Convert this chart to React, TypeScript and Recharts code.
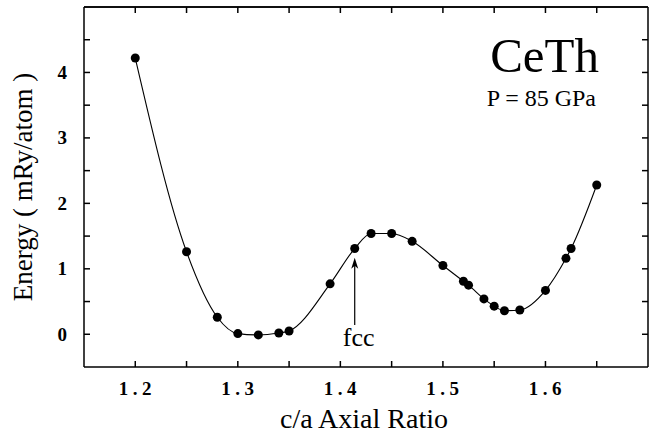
import { LineChart, Line, XAxis, YAxis, ReferenceLine, Label } from "recharts";

const RATIO = [
  1.2, 1.25, 1.28, 1.3, 1.32, 1.34, 1.35, 1.39, 1.414, 1.43, 1.45, 1.47, 1.5,
  1.52, 1.525, 1.54, 1.55, 1.56, 1.575, 1.6, 1.62, 1.625, 1.65,
];
const ENERGY = [
  4.22, 1.26, 0.26, 0.01, -0.01, 0.02, 0.05, 0.77, 1.31, 1.54, 1.54, 1.42,
  1.05, 0.81, 0.75, 0.54, 0.43, 0.36, 0.37, 0.67, 1.16, 1.31, 2.28,
];
const X_TICKS = [1.2, 1.25, 1.3, 1.35, 1.4, 1.45, 1.5, 1.55, 1.6, 1.65];
const X_LABELS = ["1.2", "1.3", "1.4", "1.5", "1.6"];
const Y_TICKS = [0, 0.5, 1, 1.5, 2, 2.5, 3, 3.5, 4, 4.5];
const Y_LABELS = ["0", "1", "2", "3", "4"];
const X_DOMAIN = [1.15, 1.7];
const Y_DOMAIN = [-0.5, 5];

const FONT = "'Liberation Serif', 'Times New Roman', serif";

const data = RATIO.map((r, i) => ({ ratio: r, energy: ENERGY[i] }));

const label = (labels: string[], v: number) => {
  const s = String(Math.round(v * 100) / 100);
  return labels.includes(s) ? s : "";
};

const XTick = (props: any) => {
  const { x, payload } = props;
  const s = label(X_LABELS, payload.value);
  if (!s) return <g />;
  return (
    <text x={Number(x) + 2} y={395} textAnchor="middle" fontFamily={FONT} fontSize={19} fontWeight="bold" letterSpacing={4.5} fill="#000">
      {s}
    </text>
  );
};

const YTick = (props: any) => {
  const { y, payload } = props;
  const s = label(Y_LABELS, payload.value);
  if (!s) return <g />;
  return (
    <text x={67} y={Number(y) + 6.5} textAnchor="end" fontFamily={FONT} fontSize={19} fontWeight="bold" fill="#000">
      {s}
    </text>
  );
};

// two in-range anchor points give the pixel scale for the top/right frame
const ANCHOR = [
  { x: 1.25, y: 1 },
  { x: 1.6, y: 4 },
];

const FrameAndTitle = (props: any) => {
  const x1 = Number(props.x1);
  const y1 = Number(props.y1);
  const x2 = Number(props.x2);
  const y2 = Number(props.y2);
  const sx = (x2 - x1) / (ANCHOR[1].x - ANCHOR[0].x);
  const sy = (y2 - y1) / (ANCHOR[1].y - ANCHOR[0].y);
  const X = (v: number) => x1 + (v - ANCHOR[0].x) * sx;
  const Y = (v: number) => y1 + (v - ANCHOR[0].y) * sy;
  const top = Y(Y_DOMAIN[1]);
  const right = X(X_DOMAIN[1]);
  return (
    <g>
      <line x1={X(X_DOMAIN[0])} x2={right} y1={top} y2={top} stroke="#000" strokeWidth={1.5} />
      <line x1={right} x2={right} y1={Y(Y_DOMAIN[0])} y2={top} stroke="#000" strokeWidth={1.5} />
      {X_TICKS.map((t) => (
        <line key={`tx${t}`} x1={X(t)} x2={X(t)} y1={top} y2={top + 6} stroke="#000" strokeWidth={1.5} />
      ))}
      {Y_TICKS.map((t) => (
        <line key={`ty${t}`} x1={right} x2={right - 6} y1={Y(t)} y2={Y(t)} stroke="#000" strokeWidth={1.5} />
      ))}
      <text x={599} y={72} textAnchor="end" fontFamily={FONT} fontSize={49} fill="#000">
        CeTh
      </text>
      <text x={596} y={106} textAnchor="end" fontFamily={FONT} fontSize={24} fill="#000">
        P = 85 GPa
      </text>
    </g>
  );
};

// arrow pointing up at the fcc point, label underneath
const FccArrow = (props: any) => {
  const x1 = Number(props.x1);
  const y1 = Number(props.y1);
  const x2 = Number(props.x2);
  const y2 = Number(props.y2);
  return (
    <g>
      <line x1={x1} y1={y1 + 6} x2={x2} y2={y2} stroke="#000" strokeWidth={1.2} />
      <path d={`M${x1},${y1} L${x1 - 3.5},${y1 + 11} L${x1},${y1 + 8} L${x1 + 3.5},${y1 + 11} Z`} fill="#000" />
      <text x={x2 + 4} y={y2 + 21} textAnchor="middle" fontFamily={FONT} fontSize={26} fill="#000">
        fcc
      </text>
    </g>
  );
};

export default function App() {
  return (
    <div style={{ position: "absolute", left: 0, top: 0, width: 654, height: 434, background: "#fff" }}>
      <LineChart width={654} height={434} data={data} margin={{ top: 7, right: 6, bottom: 0, left: 0 }}>
        <XAxis
          dataKey="ratio"
          type="number"
          domain={X_DOMAIN}
          ticks={X_TICKS}
          height={67}
          tickSize={-6}
          stroke="#000"
          strokeWidth={1.5}
          tick={XTick}
          interval={0}
          allowDataOverflow
        >
          <Label
            value="c/a Axial Ratio"
            position="insideBottom"
            offset={6}
            dx={-2}
            style={{ fontFamily: FONT, fontSize: 28, fill: "#000" }}
          />
        </XAxis>
        <YAxis
          type="number"
          domain={Y_DOMAIN}
          ticks={Y_TICKS}
          width={84}
          tickSize={-6}
          stroke="#000"
          strokeWidth={1.5}
          tick={YTick}
          interval={0}
          allowDataOverflow
        >
          <Label
            value="Energy ( mRy/atom )"
            angle={-90}
            position="insideLeft"
            offset={22}
            style={{ fontFamily: FONT, fontSize: 27, fill: "#000", textAnchor: "middle" }}
          />
        </YAxis>
        <ReferenceLine y={Y_DOMAIN[1]} stroke="#000" strokeWidth={1.5} />
        <ReferenceLine segment={ANCHOR} shape={FrameAndTitle} />
        <ReferenceLine
          segment={[
            { x: 1.414, y: 1.17 },
            { x: 1.414, y: 0.14 },
          ]}
          shape={FccArrow}
        />
        <Line
          dataKey="energy"
          type="monotone"
          stroke="#000"
          strokeWidth={1.1}
          dot={{ r: 4.5, fill: "#000", stroke: "#000", strokeWidth: 0 }}
          isAnimationActive={false}
        />
      </LineChart>
    </div>
  );
}
